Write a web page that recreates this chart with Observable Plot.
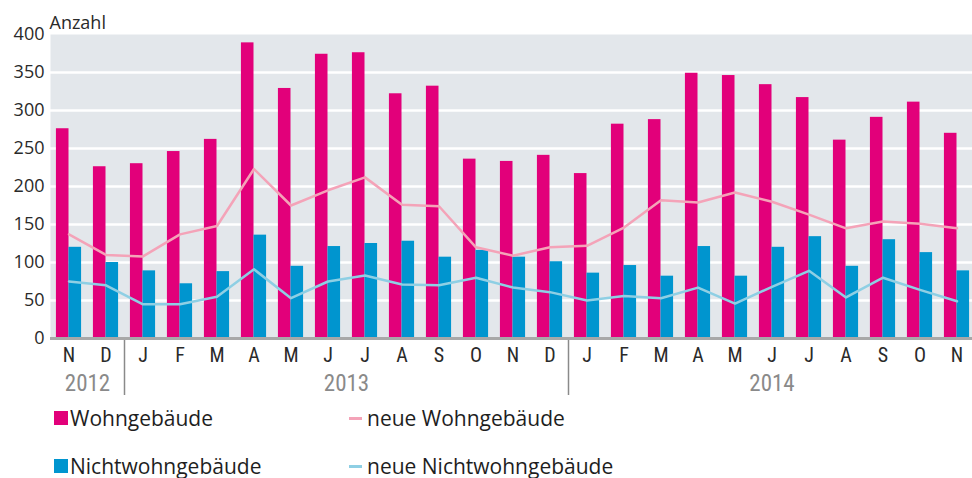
<!DOCTYPE html>
<html>
<head>
<meta charset="utf-8">
<script src="https://cdn.jsdelivr.net/npm/d3@7"></script>
<script src="https://cdn.jsdelivr.net/npm/@observablehq/plot@0.6"></script>
<style>
  html, body { margin: 0; padding: 0; background: #fff; overflow: hidden; }
  #wrap { position: relative; width: 972px; height: 478px; font-family: "Open Sans", "Noto Sans", sans-serif; }
  #legend { position: absolute; left: 0; top: 0; width: 972px; height: 478px; pointer-events: none; }
  .item { position: absolute; display: flex; align-items: center; font-size: 21px; color: #1e1e1e; white-space: nowrap; line-height: 1; }
  .sq { width: 14px; height: 14px; margin-right: 2px; }
  .ln { width: 13px; height: 3px; margin-right: 5px; }
</style>
</head>
<body>
<div id="wrap"><div id="chart"></div><div id="legend"></div></div>
<script>
const months = ["N","D","J","F","M","A","M","J","J","A","S","O","N","D","J","F","M","A","M","J","J","A","S","O","N"];
const wohngebaeude = [276,226,230,246,262,389,329,374,376,322,332,236,233,241,217,282,288,349,346,334,317,261,291,311,270];
const nichtwohngebaeude = [120,100,89,72,88,136,95,121,125,128,107,116,107,101,86,96,82,121,82,120,134,95,130,113,89];
const neueWohngebaeude = [137,110,108,137,148,223,175,195,212,176,174,120,109,120,122,146,182,179,192,180,163,145,154,151,145];
const neueNichtwohngebaeude = [75,70,45,45,55,91,53,75,83,71,70,80,67,61,50,56,53,67,46,68,89,54,80,64,49];
const years = [
  {year: "2012", first: 0, last: 1},
  {year: "2013", first: 2, last: 13},
  {year: "2014", first: 14, last: 24}
];
const yTicks = [0,50,100,150,200,250,300,350,400];

const colW = "#e2007a", colN = "#0095cf", colNW = "#f4a3b8", colNN = "#8ecfe4";

const data = months.map((m, i) => ({
  i, m,
  w: wohngebaeude[i], n: nichtwohngebaeude[i],
  nw: neueWohngebaeude[i], nn: neueNichtwohngebaeude[i]
}));
const half = 0.34;

const narrow = "'Liberation Sans Narrow', 'Roboto Condensed', 'DejaVu Sans Condensed', 'Open Sans', sans-serif";

const chart = Plot.plot({
  width: 972,
  height: 400,
  marginTop: 34,
  marginBottom: 62,
  marginLeft: 50,
  marginRight: 0,
  style: {fontFamily: "'Open Sans', sans-serif", background: "transparent", overflow: "visible"},
  x: {type: "linear", domain: [-0.5, 24.5], range: [50, 975], axis: null},
  y: {domain: [0, 400], axis: null},
  marks: [
    Plot.frame({fill: "#e3e7eb", stroke: null}),
    Plot.gridY(yTicks.filter(d => d > 0 && d < 400), {stroke: "#fff", strokeOpacity: 1, strokeWidth: 2.5}),
    Plot.rectY(data, {x1: d => d.i - half, x2: d => d.i, y: "w", fill: colW}),
    Plot.rectY(data, {x1: d => d.i, x2: d => d.i + half, y: "n", fill: colN}),
    Plot.line(data, {x: "i", y: "nw", stroke: colNW, strokeWidth: 2.5}),
    Plot.line(data, {x: "i", y: "nn", stroke: colNN, strokeWidth: 2.5}),
    Plot.ruleY([0], {stroke: "#a8a8a8", strokeWidth: 3}),
    Plot.axisY({ticks: yTicks, tickSize: 0, tickPadding: 6, fontSize: 18, label: null, fill: "#2a2a2a"}),
    Plot.axisX({ticks: d3.range(months.length), tickFormat: i => months[i], tickSize: 0, tickPadding: 9, fontSize: 20, fontFamily: narrow, label: null, fill: "#2a2a2a"}),
    Plot.ruleX(years.slice(1), {x: d => d.first - 0.5, stroke: "#8a8a8a", strokeWidth: 1.5, insetTop: 306, insetBottom: -57}),
    Plot.text(years, {x: d => (d.first + d.last) / 2, text: "year", frameAnchor: "bottom", dy: 52, fill: "#8a8a8a", fontSize: 23, fontFamily: narrow}),
    Plot.text(["Anzahl"], {frameAnchor: "top-left", text: d => d, textAnchor: "start", dx: -1, dy: -18, fontSize: 18, fill: "#2a2a2a"})
  ]
});
document.getElementById("chart").appendChild(chart);

const legendItems = [
  {label: "Wohngebäude", color: colW, kind: "sq", left: 54, top: 418},
  {label: "neue Wohngebäude", color: colNW, kind: "ln", left: 349, top: 418},
  {label: "Nichtwohngebäude", color: colN, kind: "sq", left: 54, top: 466},
  {label: "neue Nichtwohngebäude", color: colNN, kind: "ln", left: 349, top: 466}
];
const lg = document.getElementById("legend");
for (const it of legendItems) {
  const div = document.createElement("div");
  div.className = "item";
  div.style.left = it.left + "px";
  div.style.top = (it.top - 12) + "px";
  div.style.height = "24px";
  const sw = document.createElement("span");
  sw.className = it.kind;
  sw.style.background = it.color;
  const tx = document.createElement("span");
  tx.textContent = it.label;
  div.appendChild(sw);
  div.appendChild(tx);
  lg.appendChild(div);
}
</script>
</body>
</html>
